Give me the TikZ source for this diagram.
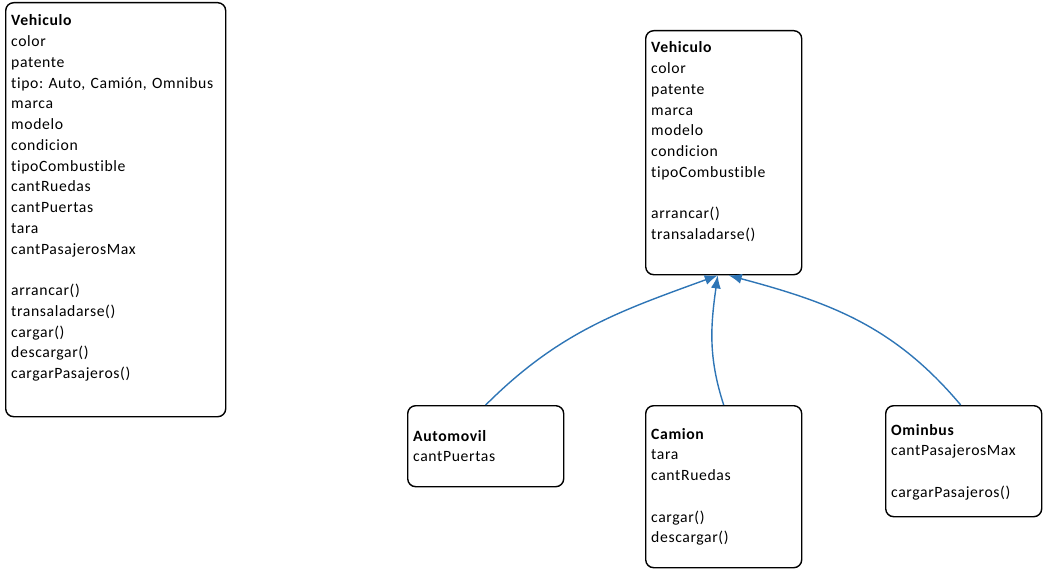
\documentclass[tikz,border=0pt]{standalone}
\usepackage{fontspec}
\setmainfont{Carlito}[LetterSpace=4,Ligatures=CommonOff]
\usetikzlibrary{positioning,arrows.meta}

\definecolor{umlblue}{RGB}{46,117,182}

\tikzset{
  classbox/.style={draw, line width=1.4pt, rounded corners=8pt, inner sep=0pt, anchor=north west},
  classtext/.style={anchor=base west, inner sep=0pt, text width=#1, align=left,
    font=\fontsize{15.7}{20.75}\selectfont\frenchspacing},
  classtext/.default=214pt,
  inherit/.style={draw=umlblue, line width=1.4pt, -{Latex[length=13pt,width=10pt]}}
}

\begin{document}
\begin{tikzpicture}[x=1pt,y=-1pt]
		\useasboundingbox (0,0) rectangle (1043,569);

		% Class before the split
		\node[classbox, minimum width=220pt, minimum height=414pt] (vehA) at (5,2) {};
		\node[classtext] at (11,26) {\textbf{Vehiculo}\\ color\\ patente\\ tipo: Auto, Camión, Omnibus\\ marca\\ modelo\\ condicion\\ tipoCombustible\\ cantRuedas\\ cantPuertas\\ tara\\ cantPasajerosMax\\[20.75pt] arrancar()\\ transaladarse()\\ cargar()\\ descargar()\\ cargarPasajeros()};

		% Base class
		\node[classbox, minimum width=156pt, minimum height=244pt] (vehB) at (645,30) {};
		\node[classtext=150pt] at (651,53) {\textbf{Vehiculo}\\ color\\ patente\\ marca\\ modelo\\ condicion\\ tipoCombustible\\[20.75pt] arrancar()\\ transaladarse()};

		% Subclasses
		\node[classbox, minimum width=156pt, minimum height=81pt] (auto) at (407,405) {};
		\node[classtext=150pt] at (413,441) {\textbf{Automovil}\\ cantPuertas};

		\node[classbox, minimum width=156pt, minimum height=162pt] (camion) at (645,405) {};
		\node[classtext=150pt] at (651,439) {\textbf{Camion}\\ tara\\ cantRuedas\\[20.75pt] cargar()\\ descargar()};

		\node[classbox, minimum width=156pt, minimum height=111pt] (omni) at (885,405) {};
		\node[classtext=150pt] at (891,435) {\textbf{Ominbus}\\ cantPasajerosMax\\[20.75pt] cargarPasajeros()};

		% Inheritance
		\draw[inherit] (auto.north) to[out=45,in=200] ([xshift=-6pt]vehB.south);
		\draw[inherit] (camion.north) to[out=108,in=-98] ([xshift=-6pt]vehB.south);
		\draw[inherit] ([xshift=-3pt]omni.north) to[out=130,in=-15] ([xshift=5pt]vehB.south);
	\end{tikzpicture}
\end{document}
